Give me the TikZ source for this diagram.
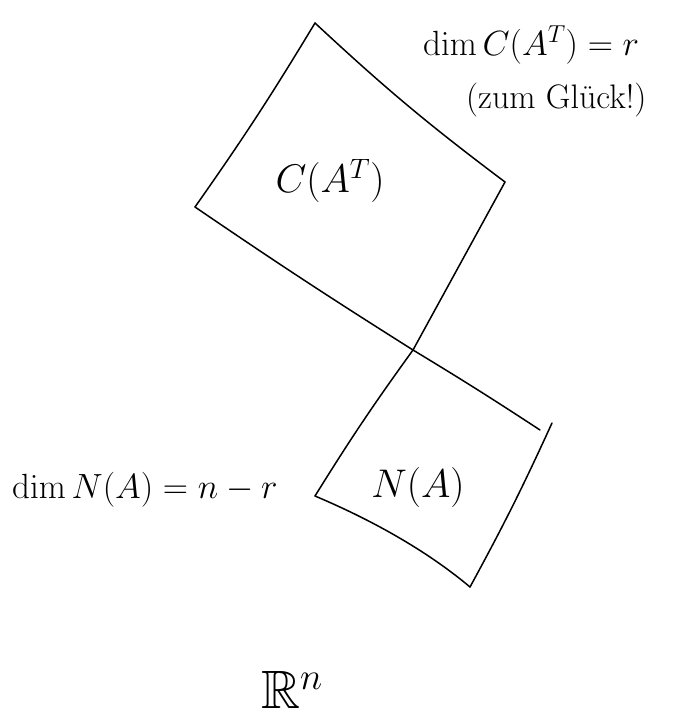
\RequirePackage{fix-cm}
\documentclass[tikz,border=0pt]{standalone}
\usepackage{amsmath,amssymb}
\begin{document}
\begin{tikzpicture}[x=1pt,y=-1pt,
  edge/.style={line width=1.5pt,line cap=round,line join=round},
  side/.style={inner sep=0pt,font=\fontsize{35}{40}\selectfont},
  inbox/.style={inner sep=0pt,font=\fontsize{40}{46}\selectfont},
  small/.style={inner sep=0pt,font=\fontsize{34}{40}\selectfont},
  space/.style={inner sep=0pt,font=\fontsize{54}{60}\selectfont}]
\useasboundingbox (0,0) rectangle (677,725);
% corners of C(A^T)
\coordinate (t) at (315,23);
\coordinate (l) at (195,207);
\coordinate (r) at (505,182);
% crossing point
\coordinate (x) at (413,350);
% corners of N(A)
\coordinate (ll) at (315,496);
\coordinate (b) at (470,587);
\coordinate (rt) at (552,423);
\coordinate (re) at (540,430);
% edges
\draw[edge] (t) to[bend left=2] (l);
\draw[edge] (t) to[bend left=-3] (r);
\draw[edge] (l) to[bend left=-1] (x) to[bend left=1] (re);
\draw[edge] (r) -- (x) to[bend left=-2] (ll);
\draw[edge] (ll) .. controls (360,515) and (420,545) .. (b);
\draw[edge] (b) to[bend left=-2] (rt);
% labels
\node[inbox] (cat) at (330,181) {$C(A^{T})$};
\node[inbox] (na) at (418,487) {$N(A)$};
\node[side,anchor=west] (dimc) at (423,45) {$\dim C(A^{T})=r$};
\node[small,anchor=west] (zum) at (466,100) {(zum Glück!)};
\node[side,anchor=west] (dimn) at (12,490) {$\dim N(A)=n-r$};
\node[space] (rn) at (292,690) {$\mathbb{R}^{n}$};
\end{tikzpicture}
\end{document}
